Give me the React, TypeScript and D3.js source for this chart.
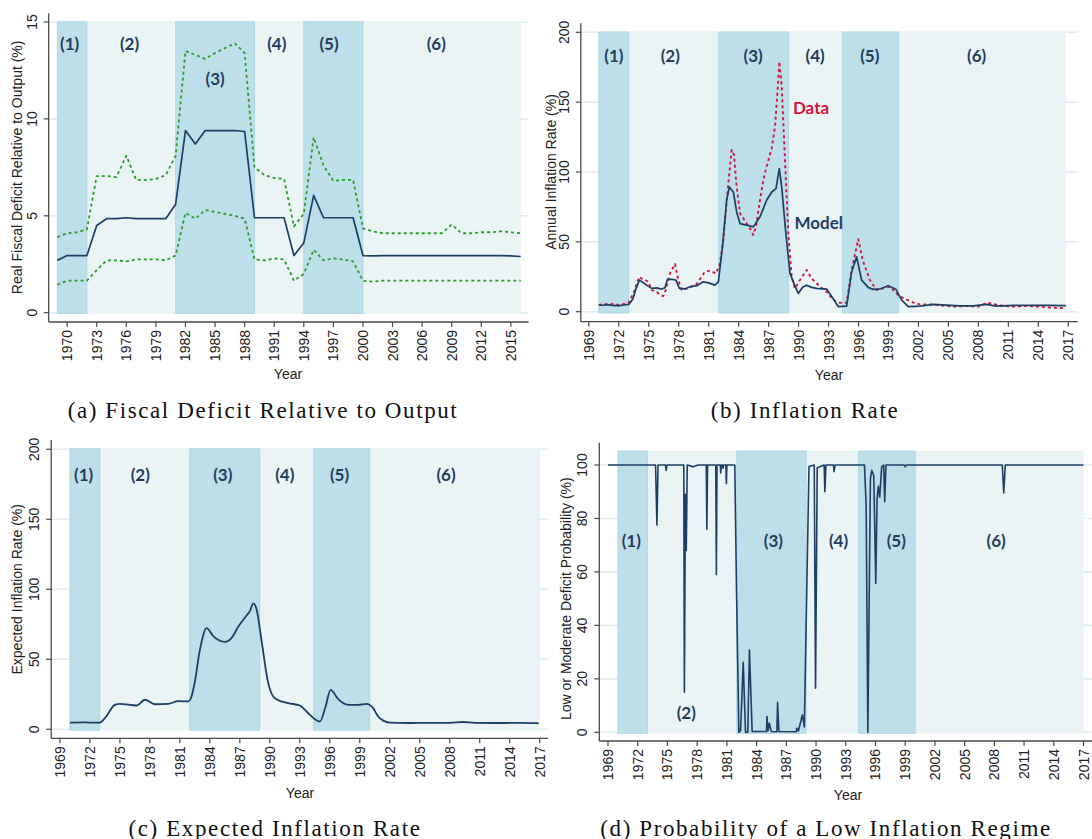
import React from "react";
import * as d3 from "d3";

// ---------------- data ----------------
const deficitYears = [1969,1970,1971,1972,1973,1974,1975,1976,1977,1978,1979,1980,1981,1982,1983,1984,1985,1986,1987,1988,1989,1990,1991,1992,1993,1994,1995,1996,1997,1998,1999,2000,2001,2002,2003,2004,2005,2006,2007,2008,2009,2010,2011,2012,2013,2014,2015,2016];
const deficitModel = [2.7,2.95,2.95,2.95,4.5,4.85,4.85,4.9,4.85,4.85,4.85,4.85,5.6,9.4,8.7,9.4,9.4,9.4,9.4,9.35,4.9,4.9,4.9,4.9,2.95,3.6,6.05,4.9,4.9,4.9,4.9,2.95,2.93,2.95,2.95,2.95,2.95,2.95,2.95,2.95,2.95,2.95,2.95,2.95,2.95,2.95,2.93,2.9];
const deficitUpper = [3.9,4.1,4.15,4.3,7.05,7.05,7.0,8.1,6.85,6.85,6.9,7.1,8.1,13.5,13.3,13.1,13.4,13.65,13.9,13.4,7.5,7.1,6.95,6.9,4.45,5.1,9.05,7.6,6.8,6.85,6.85,4.35,4.2,4.1,4.1,4.1,4.1,4.1,4.1,4.1,4.55,4.1,4.1,4.15,4.15,4.2,4.15,4.1];
const deficitLower = [1.45,1.65,1.65,1.65,2.2,2.7,2.7,2.65,2.75,2.75,2.75,2.7,2.95,5.15,4.85,5.3,5.2,5.1,5.0,4.85,2.75,2.7,2.8,2.75,1.65,2.0,3.25,2.7,2.8,2.75,2.65,1.65,1.6,1.65,1.65,1.65,1.65,1.65,1.65,1.65,1.65,1.65,1.65,1.65,1.65,1.65,1.65,1.65];

const inflModelYears = [1970.0,1970.4,1970.8,1971.2,1971.6,1972.0,1972.5,1973.0,1973.4,1973.7,1974.06,1974.5,1974.9,1975.29,1975.79,1976.29,1976.63,1976.86,1977.3,1977.73,1978.06,1978.6,1979.13,1979.8,1980.46,1981.0,1981.63,1981.97,1982.4,1982.8,1983.07,1983.47,1983.8,1984.14,1984.8,1985.47,1986.14,1986.8,1987.31,1987.74,1988.07,1988.31,1988.7,1989.14,1989.6,1989.97,1990.4,1990.81,1991.3,1991.81,1992.81,1993.4,1993.98,1994.81,1995.3,1995.81,1996.31,1997.0,1997.48,1998.2,1998.98,1999.75,2000.3,2000.98,2002.15,2003.5,2004.8,2006.1,2007.5,2008.8,2009.8,2011.5,2013.1,2014.8,2016.75];
const inflModel = [4.8,4.6,5.1,4.7,4.4,4.3,4.8,5.2,9,16,22.6,20.5,18.5,16.7,17.1,16.2,17.1,23.1,23.2,22.6,16.7,16.3,17.9,18.6,21.4,20.6,19.0,21.4,48,79.8,89.3,85.7,71.4,63.1,62.0,60.7,67.9,79.8,85.7,88.1,102.4,89.3,58,27.4,19,13.1,17.5,19.0,17.4,16.7,16.2,10,3.6,4.0,28,39.3,22.6,17.2,16.0,16.4,18.6,16.0,8.4,3.6,4.0,5.2,4.7,4.2,4.2,5.2,4.0,4.5,4.5,4.5,4.3];

const inflDataYears = [1970.0,1970.5,1971.0,1971.5,1972.0,1972.5,1973.0,1973.5,1974.06,1974.4,1974.63,1974.95,1975.29,1975.79,1976.13,1976.46,1976.7,1977.13,1977.63,1977.96,1978.3,1979.13,1979.8,1980.63,1981.13,1981.73,1982.13,1982.47,1982.87,1983.3,1983.53,1983.8,1984.14,1984.8,1985.13,1985.47,1985.73,1986.14,1986.47,1986.8,1987.31,1987.64,1987.97,1988.07,1988.31,1988.64,1988.97,1989.31,1989.64,1990.14,1990.81,1991.3,1992.14,1992.81,1993.47,1994.14,1994.81,1995.31,1995.98,1996.41,1997.14,1997.81,1998.48,1999.14,1999.81,2000.3,2000.9,2001.5,2002.15,2003.2,2004.2,2005.5,2006.9,2008.0,2008.9,2010.1,2011.5,2012.8,2014.1,2015.5,2016.5,2016.75];
const inflData = [4.8,5.6,5.0,5.8,4.6,5.5,6.4,14,25,23,22.7,21.5,15.5,14.3,11.9,11.2,15.5,27.4,34.1,22.7,15.5,17.2,19.8,28.6,29.4,27.4,34.6,51.3,84.7,115.8,112.2,89.5,70.4,63.2,59.7,54.9,60.9,80,94.3,103.8,116.9,132.5,165.9,179,161,108.6,56.1,25,16.7,22.7,29.8,23.9,17.9,14.3,8.4,6.4,6.4,29.8,52,37,22.7,15.5,16.7,17.9,13.1,10.4,8.4,6.5,5.2,5.2,4.5,3.6,4.1,3.6,6.5,4.5,3.6,4.1,3.6,2.8,2.6,3.1];

const expYears = [1970.0,1971.5,1972.5,1973.0,1973.5,1974.5,1975.0,1976.68,1977.51,1978.51,1979.84,1980.84,1981.84,1982.1,1982.45,1983.01,1983.68,1984.34,1985.51,1986.18,1986.84,1987.68,1988.01,1988.34,1988.68,1989.18,1989.84,1990.51,1991.84,1993.01,1993.68,1994.51,1995.01,1995.58,1996.08,1996.84,1997.84,1998.84,1999.68,2000.34,2000.8,2001.4,2002.0,2004.0,2006.0,2008.0,2009.3,2010.5,2013.0,2015.0,2016.9];
const expInfl = [4.8,4.9,4.7,4.8,7.9,17.5,18.2,17.0,21.1,17.9,18.2,20.1,19.9,22,32,56.9,72.2,66.5,62.4,65.3,73.2,81.3,84.4,90.0,85.6,62.9,33.0,22.2,18.7,17.0,12.7,7.2,5.5,16.3,28.2,21.5,17.5,17.5,18.2,15.1,9.5,6.0,4.8,4.5,4.6,4.6,5.2,4.6,4.5,4.6,4.4];

const probYears = [1969.0,1973.8,1973.94,1974.05,1974.8,1974.87,1974.95,1976.65,1976.71,1976.81,1976.9,1977.0,1977.6,1978.1,1978.92,1978.98,1979.05,1979.88,1979.94,1980.0,1980.33,1980.38,1980.45,1980.55,1980.61,1980.68,1980.9,1980.95,1981.0,1981.8,1981.98,1982.21,1982.38,1982.65,1982.88,1983.11,1983.28,1983.55,1985.0,1985.05,1985.15,1985.28,1985.48,1986.05,1986.12,1986.25,1988.0,1988.05,1988.22,1988.62,1988.82,1989.05,1989.29,1989.82,1989.95,1990.12,1990.82,1990.89,1991.0,1991.76,1991.82,1991.92,1994.89,1995.06,1995.23,1995.49,1995.63,1995.83,1996.03,1996.16,1996.29,1996.43,1996.63,1996.83,1996.93,1997.06,1998.9,1999.0,1999.1,2008.8,2008.95,2009.1,2017.0];
const prob = [100,100,77.6,100,100,98,100,100,15,89,68,100,99.3,100,100,76,100,100,59,100,100,97,100,100,98.8,100,100,93,100,100,51.4,0,0.5,26.2,0,0,30.8,0.3,0.3,5.9,0.5,3.4,0.3,0.2,11.2,0.3,0.2,1.5,0.5,6.5,2,50.7,99.4,100,16.5,99,100,90,100,100,97.5,100,100,85,0,95,98,96,55.7,87.5,92,88,99.4,100,86.3,100,100,99.3,100,100,89.5,100,100];

const regionNames = ["(1)", "(2)", "(3)", "(4)", "(5)", "(6)"];
const regimesA: [number, number][] = [[1969, 1972], [1981, 1989], [1994, 2000]];
const regimesB: [number, number][] = [[1970, 1973], [1982, 1989], [1994.4, 2000]];
const ticksXA = [1970,1973,1976,1979,1982,1985,1988,1991,1994,1997,2000,2003,2006,2009,2012,2015];
const ticksX = [1969,1972,1975,1978,1981,1984,1987,1990,1993,1996,1999,2002,2005,2008,2011,2014,2017];
const ticksYA = [0, 5, 10, 15];
const ticksYB = [0, 50, 100, 150, 200];
const ticksYD = [0, 20, 40, 60, 80, 100];

// ---------------- style ----------------
const SANS = "'Liberation Sans', Arial, sans-serif";
const LBL = "Lato, 'Open Sans', sans-serif";
const SERIF = "'Liberation Serif', 'DejaVu Serif', serif";
const DARK = "#bddfe9";
const LIGHT = "#eaf4f4";
const NAVY = "#1d3f66";
const GREEN = "#2b9a2b";
const RED = "#d3143f";
const LABELC = "#223c5e";
const GRID = "#e2edf1";
const AXIS = "#4a4a4a";
const TICKFS = 14;

type Series = { x: number[]; y: number[]; color: string; dash?: string; width: number; curve?: any };
type Cfg = {
  xDomain: [number, number]; xRange: [number, number];
  yDomain: [number, number]; yRange: [number, number];
  axisX: number; axisY: number; axisTop: number; axisRight: number;
  shadeTop: number; shadeBottom: number;
  bg: [number, number]; dark: [number, number][];
  xticks: number[]; yticks: number[];
  ytitle: string; ytitleX: number;
  xtitleX: number; xtitleY: number;
  caption: string; captionX: number; captionY: number;
  labels: { x: number; y: number }[];
  series: Series[];
};

function Panel({ c }: { c: Cfg }) {
  const x = d3.scaleLinear().domain(c.xDomain).range(c.xRange);
  const y = d3.scaleLinear().domain(c.yDomain).range(c.yRange);
  const ymid = (c.yRange[0] + c.yRange[1]) / 2;
  return (
    <g>
      {c.yticks.map((t) => (
        <line key={"g" + t} x1={c.axisX} x2={c.axisRight} y1={y(t)} y2={y(t)} stroke={GRID} strokeWidth={1.6} />
      ))}
      <rect x={x(c.bg[0])} y={c.shadeTop} width={x(c.bg[1]) - x(c.bg[0])} height={c.shadeBottom - c.shadeTop} fill={LIGHT} />
      {c.dark.map((d, i) => (
        <rect key={"d" + i} x={x(d[0])} y={c.shadeTop} width={x(d[1]) - x(d[0])} height={c.shadeBottom - c.shadeTop} fill={DARK} stroke="#a9d4e1" strokeWidth={0.8} />
      ))}
      {c.series.map((s, i) => {
        const pts: [number, number][] = s.x.map((v, j) => [v, s.y[j]]);
        const line = d3.line<[number, number]>().x((d) => x(d[0])).y((d) => y(d[1])).curve(s.curve || d3.curveLinear);
        return <path key={"s" + i} d={line(pts) || ""} fill="none" stroke={s.color} strokeWidth={s.width} strokeDasharray={s.dash} strokeLinejoin="round" />;
      })}
      {c.labels.map((l, i) => (
        <text key={"l" + i} x={l.x} y={l.y} textAnchor="middle" dominantBaseline="central" fontFamily={LBL} fontWeight={700} fontSize={17} fill={LABELC}>{regionNames[i]}</text>
      ))}
      <line x1={c.axisX} x2={c.axisX} y1={c.axisTop} y2={c.axisY} stroke={AXIS} strokeWidth={1.3} />
      <line x1={c.axisX} x2={c.axisRight} y1={c.axisY} y2={c.axisY} stroke={AXIS} strokeWidth={1.3} />
      {c.yticks.map((t) => (
        <g key={"y" + t}>
          <line x1={c.axisX - 5} x2={c.axisX} y1={y(t)} y2={y(t)} stroke={AXIS} strokeWidth={1.2} />
          <text transform={`translate(${c.axisX - 12},${y(t)}) rotate(-90)`} textAnchor="middle" fontFamily={SANS} fontSize={TICKFS} fill="#222">{t}</text>
        </g>
      ))}
      {c.xticks.map((t) => (
        <g key={"x" + t}>
          <line x1={x(t)} x2={x(t)} y1={c.axisY} y2={c.axisY + 5} stroke={AXIS} strokeWidth={1.2} />
          <text transform={`translate(${x(t)},${c.axisY + 8}) rotate(-90)`} textAnchor="end" dominantBaseline="central" fontFamily={SANS} fontSize={TICKFS} fill="#222">{t}</text>
        </g>
      ))}
      <text transform={`translate(${c.ytitleX},${ymid}) rotate(-90)`} textAnchor="middle" dominantBaseline="central" fontFamily={SANS} fontSize={14} fill="#222">{c.ytitle}</text>
      <text x={c.xtitleX} y={c.xtitleY} textAnchor="middle" dominantBaseline="central" fontFamily={SANS} fontSize={14} fill="#222">Year</text>
      <text x={c.captionX} y={c.captionY} textAnchor="middle" dominantBaseline="central" fontFamily={SERIF} fontSize={23} letterSpacing={1.6} fill="#111">{c.caption}</text>
    </g>
  );
}

export default function App() {
  const A: Cfg = {
    xDomain: [1969, 2016], xRange: [57.3, 520.7],
    yDomain: [0, 15], yRange: [312.7, 22],
    axisX: 48.7, axisY: 322, axisTop: 13.3, axisRight: 528.5,
    shadeTop: 21.7, shadeBottom: 313.5,
    bg: [1969, 2016], dark: regimesA,
    xticks: ticksXA, yticks: ticksYA,
    ytitle: "Real Fiscal Deficit Relative to Output (%)", ytitleX: 17.4,
    xtitleX: 288, xtitleY: 374,
    caption: "(a) Fiscal Deficit Relative to Output", captionX: 263, captionY: 410,
    labels: [{ x: 69.6, y: 43 }, { x: 129.5, y: 43 }, { x: 215.2, y: 78 }, { x: 276.8, y: 43 }, { x: 329, y: 43 }, { x: 436.3, y: 43 }],
    series: [
      { x: deficitYears, y: deficitUpper, color: GREEN, dash: "3,3", width: 1.8 },
      { x: deficitYears, y: deficitLower, color: GREEN, dash: "3,3", width: 1.8 },
      { x: deficitYears, y: deficitModel, color: NAVY, width: 1.7 },
    ],
  };
  const B: Cfg = {
    xDomain: [1969, 2017], xRange: [588.8, 1068.3],
    yDomain: [0, 200], yRange: [311.7, 32.3],
    axisX: 580.8, axisY: 321.7, axisTop: 23.3, axisRight: 1077.7,
    shadeTop: 32, shadeBottom: 313,
    bg: [1970, 2016.75], dark: regimesB,
    xticks: ticksX, yticks: ticksYB,
    ytitle: "Annual Inflation Rate (%)", ytitleX: 551,
    xtitleX: 829, xtitleY: 375,
    caption: "(b) Inflation Rate", captionX: 805, captionY: 410,
    labels: [{ x: 613.9, y: 55 }, { x: 670.3, y: 55 }, { x: 753.2, y: 55 }, { x: 815.1, y: 55 }, { x: 869.8, y: 55 }, { x: 976.7, y: 55 }],
    series: [
      { x: inflDataYears, y: inflData, color: RED, dash: "3,3", width: 1.9 },
      { x: inflModelYears, y: inflModel, color: NAVY, width: 1.7 },
    ],
  };
  const C: Cfg = {
    xDomain: [1969, 2017], xRange: [59.9, 539.7],
    yDomain: [0, 200], yRange: [729.3, 449.3],
    axisX: 51.2, axisY: 738.3, axisTop: 440, axisRight: 548,
    shadeTop: 448.7, shadeBottom: 730.3,
    bg: [1970, 2017], dark: regimesB,
    xticks: ticksX, yticks: ticksYB,
    ytitle: "Expected Inflation Rate (%)", ytitleX: 17.4,
    xtitleX: 300, xtitleY: 793,
    caption: "(c) Expected Inflation Rate", captionX: 275, captionY: 828,
    labels: [{ x: 83.6, y: 474 }, { x: 140.3, y: 474 }, { x: 222.8, y: 474 }, { x: 284.8, y: 474 }, { x: 339.5, y: 474 }, { x: 446, y: 474 }],
    series: [{ x: expYears, y: expInfl, color: NAVY, width: 1.8, curve: d3.curveMonotoneX }],
  };
  const D: Cfg = {
    xDomain: [1969, 2017], xRange: [608, 1083.5],
    yDomain: [0, 100], yRange: [732.3, 465],
    axisX: 599.3, axisY: 741, axisTop: 442.7, axisRight: 1092,
    shadeTop: 451, shadeBottom: 733.3,
    bg: [1970, 2017], dark: [[1970, 1973], [1982, 1989], [1994.3, 2000]],
    xticks: ticksX, yticks: ticksYD,
    ytitle: "Low or Moderate Deficit Probability (%)", ytitleX: 566,
    xtitleX: 848, xtitleY: 795,
    caption: "(d) Probability of a Low Inflation Regime", captionX: 826, captionY: 828,
    labels: [{ x: 631.3, y: 540 }, { x: 686.3, y: 712 }, { x: 773.4, y: 540 }, { x: 838.5, y: 540 }, { x: 896.3, y: 540 }, { x: 996.2, y: 540 }],
    series: [{ x: probYears, y: prob, color: NAVY, width: 1.6 }],
  };
  return (
    <svg width={1092} height={839} style={{ position: "absolute", left: 0, top: 0, background: "#fff" }}>
      <rect width={1092} height={839} fill="#fff" />
      <Panel c={A} />
      <Panel c={B} />
      <Panel c={C} />
      <Panel c={D} />
      <text x={811} y={107} textAnchor="middle" dominantBaseline="central" fontFamily={LBL} fontWeight={700} fontSize={17} fill={RED}>Data</text>
      <text x={818.7} y={222} textAnchor="middle" dominantBaseline="central" fontFamily={LBL} fontWeight={700} fontSize={17} fill={NAVY}>Model</text>
    </svg>
  );
}
